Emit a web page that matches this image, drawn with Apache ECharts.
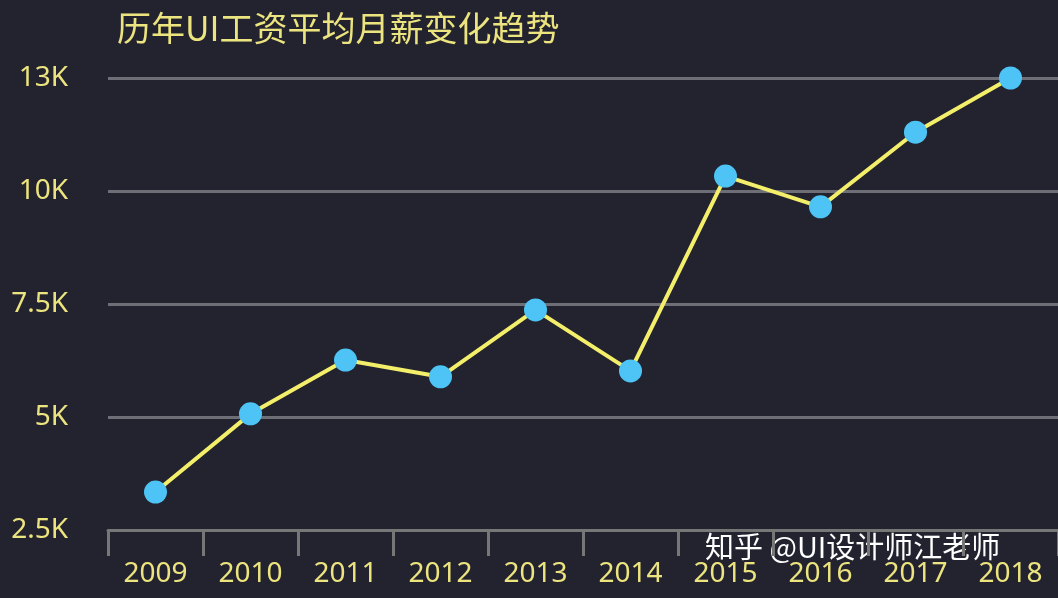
<!DOCTYPE html><html><head><meta charset="utf-8"><script src="https://cdn.jsdelivr.net/npm/echarts@6/dist/echarts.min.js"></script>
<style>html,body{margin:0;background:#23222f}#c{width:1058px;height:598px}</style></head><body><div id="c"></div><script>
const years=['2009','2010','2011','2012','2013','2014','2015','2016','2017','2018'];
const salary=[3340,5070,6260,5890,7370,6020,10330,9650,11300,12500];
const tickLabels={2500:'2.5K',5000:'5K',7500:'7.5K',10000:'10K',12500:'13K'};
const ch=echarts.init(document.getElementById('c'));
ch.setOption({backgroundColor:'#23222f',
title:{text:'历年UI工资平均月薪变化趋势',left:112,top:6,textStyle:{color:'#ece47e',fontSize:34,fontWeight:'normal',fontFamily:'Noto Sans CJK SC'}},
grid:{left:108,right:0,top:78,bottom:68},
xAxis:{type:'category',data:years,boundaryGap:true,axisLine:{lineStyle:{color:'#777',width:3}},axisTick:{show:true,length:26,lineStyle:{color:'#777',width:3}},axisLabel:{color:'#ece47e',fontSize:28,margin:30,fontFamily:'Noto Sans'}},
yAxis:{type:'value',min:2500,max:12500,interval:2500,axisLine:{show:false},axisTick:{show:false},splitLine:{lineStyle:{color:'#6e6e76',width:3}},axisLabel:{color:'#ece47e',fontSize:28,margin:40,fontFamily:'Noto Sans'}},
graphic:[{type:'text',left:705,top:532,style:{text:'知乎 @UI设计师江老师',fill:'#fff',fontSize:29,fontFamily:'Noto Sans CJK SC'}}],
series:[{type:'line',data:salary,symbol:'circle',symbolSize:23,lineStyle:{color:'#f3ef6a',width:4},itemStyle:{color:'#4dc4f5'}}]});
ch.setOption({yAxis:{axisLabel:{formatter:v=>tickLabels[v]||''}}});
</script></body></html>
